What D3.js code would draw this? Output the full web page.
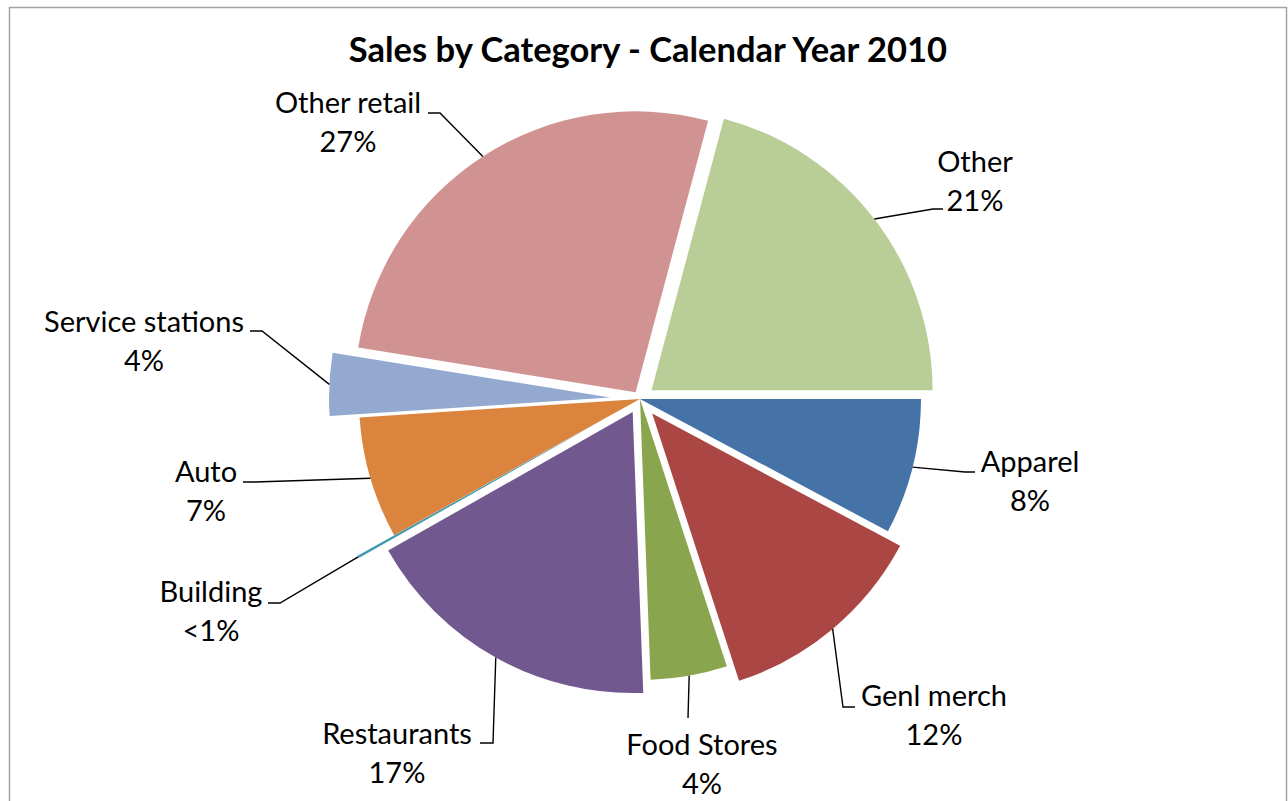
<!DOCTYPE html>
<html>
<head>
<meta charset="utf-8">
<script src="https://cdn.jsdelivr.net/npm/d3@7"></script>
<style>
  html, body { margin: 0; padding: 0; background: #fff; }
  svg { display: block; }
</style>
</head>
<body>
<svg id="chart" width="1288" height="801"></svg>
<script>
// Sales share by category, percent of total, clockwise from 3 o'clock
const categories = ["Apparel", "Genl merch", "Food Stores", "Restaurants", "Building",
                    "Auto", "Service stations", "Other retail", "Other"];
const shares = [7.8, 12.2, 4.4, 17.4, 0.15, 7.0, 3.6, 26.6, 20.85];

// Styling and layout (kept apart from the data)
const sliceColors = ["#4572A7", "#AA4643", "#89A54E", "#71588F", "#4198AF",
                     "#DB843D", "#93A9CF", "#D19392", "#B9CD96"];
const explodeBy = [0, 19, 0, 15, 42, 0, 30, 8, 14.5];
// label anchor: [centre x, first-line baseline]
const labelAnchor = [[1030, 472], [934, 706], [702, 755], [397, 744], [211, 602],
                     [206, 482], [144, 332], [348, 113], [975, 172]];
// leader line bend and end points: [bendX, bendY, endX, endY]
const leaderPath = [[965, 472, 975, 472], [843, 707, 855, 707], [688, 718, 688, 718],
                    [493, 743, 480, 743], [280, 603, 268, 603], [255, 482, 243, 482],
                    [262, 331, 250, 331], [440, 113, 428, 113], [933, 209, 943, 209]];

const cx = 640, cy = 399, radius = 281;
const svg = d3.select("#chart");

// chart area frame
svg.append("rect")
  .attr("x", 9.5).attr("y", 7.5)
  .attr("width", 1277).attr("height", 820)
  .attr("fill", "#fff")
  .attr("stroke", "#a3a3a3").attr("stroke-width", 1.5);

svg.append("text")
  .attr("x", 648).attr("y", 62)
  .attr("text-anchor", "middle")
  .attr("font-family", "Lato, 'Open Sans', sans-serif")
  .attr("font-weight", "bold")
  .attr("font-size", 34.5)
  .attr("fill", "#000")
  .text("Sales by Category - Calendar Year 2010");

const data = categories.map((c, i) => ({ name: c, value: shares[i], idx: i }));

const pie = d3.pie()
  .value(d => d.value)
  .sort(null)
  .startAngle(Math.PI / 2)
  .endAngle(Math.PI / 2 + 2 * Math.PI);

const arcs = pie(data);
const arc = d3.arc().innerRadius(0).outerRadius(radius);
const edgeArc = d3.arc().innerRadius(radius).outerRadius(radius);

const g = svg.append("g").attr("transform", `translate(${cx},${cy})`);

function offsetOf(a) {
  const mid = (a.startAngle + a.endAngle) / 2;
  const d = explodeBy[a.data.idx];
  return [d * Math.sin(mid), -d * Math.cos(mid)];
}

g.selectAll("path.slice")
  .data(arcs)
  .join("path")
  .attr("class", "slice")
  .attr("transform", a => `translate(${offsetOf(a)[0]},${offsetOf(a)[1]})`)
  .attr("d", arc)
  .attr("fill", a => sliceColors[a.data.idx]);

// leader lines from each slice's outer edge to its label
g.selectAll("polyline.leader")
  .data(arcs)
  .join("polyline")
  .attr("class", "leader")
  .attr("fill", "none")
  .attr("stroke", "#000")
  .attr("stroke-width", 1.4)
  .attr("points", a => {
    const [ox, oy] = offsetOf(a);
    const mid = (a.startAngle + a.endAngle) / 2;
    const p = edgeArc.centroid({ startAngle: mid, endAngle: mid });
    const lp = leaderPath[a.data.idx];
    return [[p[0] + ox, p[1] + oy], [lp[0] - cx, lp[1] - cy], [lp[2] - cx, lp[3] - cy]]
      .map(q => q.join(",")).join(" ");
  });

const fmt = v => v < 1 ? "<1%" : Math.round(v) + "%";

const labels = svg.selectAll("text.lbl")
  .data(arcs)
  .join("text")
  .attr("class", "lbl")
  .attr("text-anchor", "middle")
  .attr("font-family", "Lato, 'Open Sans', sans-serif")
  .attr("font-size", 29)
  .attr("fill", "#000");

labels.append("tspan")
  .attr("x", a => labelAnchor[a.data.idx][0])
  .attr("y", a => labelAnchor[a.data.idx][1])
  .text(a => a.data.name);
labels.append("tspan")
  .attr("x", a => labelAnchor[a.data.idx][0])
  .attr("y", a => labelAnchor[a.data.idx][1] + 39)
  .text(a => fmt(a.data.value));
</script>
</body>
</html>
